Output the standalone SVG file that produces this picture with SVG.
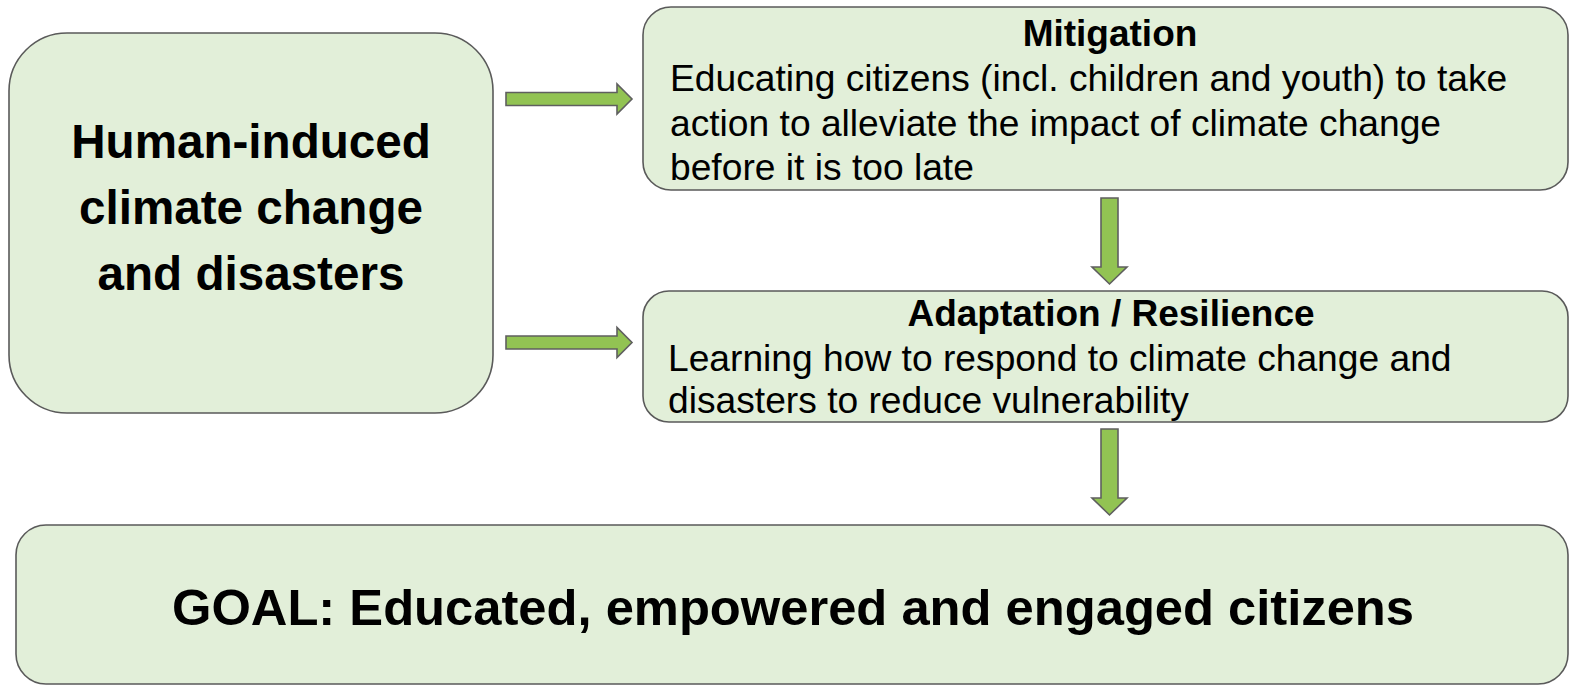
<svg xmlns="http://www.w3.org/2000/svg" width="1570" height="686" viewBox="0 0 1570 686">
  <style>
    .box { fill: #e2efd9; stroke: #5a5a5a; stroke-width: 1.6; }
    .arrow { fill: #92c353; stroke: #5f5f5f; stroke-width: 1.6; stroke-linejoin: miter; }
    text { font-family: "Liberation Sans", Arial, sans-serif; fill: #000; }
    .big { font-size: 47.6px; font-weight: bold; text-anchor: middle; }
    .title { font-size: 37px; font-weight: bold; text-anchor: middle; }
    .body { font-size: 37.2px; }
    .goal { font-size: 50.7px; font-weight: bold; text-anchor: middle; }
  </style>
  <rect width="1570" height="686" fill="#ffffff"/>

  <g id="cause">
    <rect class="box" x="9" y="33" width="484" height="380" rx="58" ry="58"/>
    <text class="big" x="251" y="158">Human-induced</text>
    <text class="big" x="251" y="224">climate change</text>
    <text class="big" x="251" y="290">and disasters</text>
  </g>

  <g id="mitigation">
    <rect class="box" x="643" y="7" width="925" height="183" rx="28" ry="28"/>
    <text class="title" x="1110" y="46">Mitigation</text>
    <text class="body" x="670" y="91">Educating citizens (incl. children and youth) to take</text>
    <text class="body" x="670" y="136">action to alleviate the impact of climate change</text>
    <text class="body" x="670" y="180">before it is too late</text>
  </g>

  <g id="adaptation">
    <rect class="box" x="643" y="291" width="925" height="131" rx="26" ry="26"/>
    <text class="title" x="1111" y="326">Adaptation / Resilience</text>
    <text class="body" x="668" y="371">Learning how to respond to climate change and</text>
    <text class="body" x="668" y="413">disasters to reduce vulnerability</text>
  </g>

  <g id="goal">
    <rect class="box" x="16" y="525" width="1552" height="159" rx="30" ry="30"/>
    <text class="goal" x="793" y="625">GOAL: Educated, empowered and engaged citizens</text>
  </g>

  <g id="connectors">
    <!-- cause to mitigation -->
    <path class="arrow" d="M506 92.5 H617 V84 L632 99 L617 114 V105.5 H506 Z"/>
    <!-- cause to adaptation -->
    <path class="arrow" d="M506 336 H617 V327.5 L632 342.5 L617 357.5 V349 H506 Z"/>
    <!-- mitigation to adaptation -->
    <path class="arrow" d="M1101 198 V267 H1092 L1109.5 284 L1127 267 H1118 V198 Z"/>
    <!-- adaptation to goal -->
    <path class="arrow" d="M1101 429 V498 H1092 L1109.5 515 L1127 498 H1118 V429 Z"/>
  </g>
</svg>
